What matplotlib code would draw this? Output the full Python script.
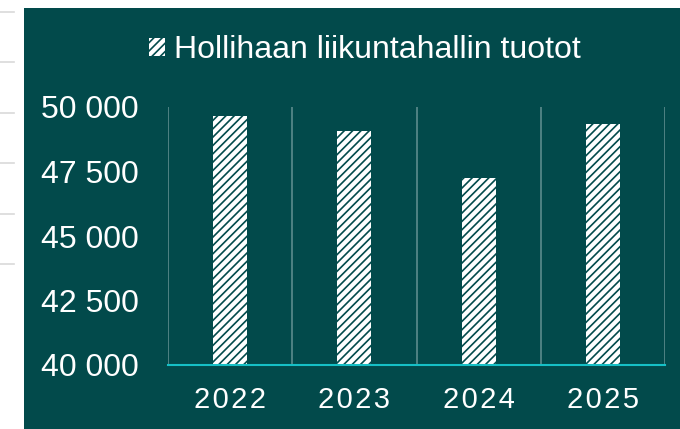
import matplotlib
matplotlib.use("Agg")
import numpy as np
from matplotlib import pyplot as plt
from matplotlib.lines import Line2D

years = ["2022", "2023", "2024", "2025"]
revenue = [49660, 49080, 47250, 49350]
yticks = [40000, 42500, 45000, 47500, 50000]
series_name = "Hollihaan liikuntahallin tuotot"

bg = "#024a4b"
plt.rcParams["font.family"] = ["Liberation Sans", "DejaVu Sans"]
plt.rcParams["hatch.linewidth"] = 1.2

fig = plt.figure(figsize=(6.8, 4.29), dpi=100)
fig.patch.set_facecolor("white")

# teal panel
panel = plt.Rectangle((24 / 680, 0), 1 - 24 / 680, 1 - 8 / 429, transform=fig.transFigure,
                      facecolor=bg, edgecolor="none", zorder=-10)
fig.patches.append(panel)
# bits of gridlines from the neighbouring chart
for i in range(6):
    yy = 1 - (12 + i * 50.4) / 429
    fig.add_artist(Line2D([0, 14 / 680], [yy, yy], color="#d9d9d9", lw=1.2, transform=fig.transFigure))

ax = fig.add_axes([168 / 680, 1 - 365 / 429, 497 / 680, 258 / 429])
ax.set_facecolor("none")

x = np.arange(len(years))
ax.bar(x, revenue, width=0.274, color="white", edgecolor=bg, hatch="////", linewidth=0,
       label=series_name, zorder=3)

ax.set_xlim(-0.5, len(years) - 0.5)
ax.set_ylim(40000, 50000)
ax.set_yticks(yticks)
ax.set_yticklabels([f"{v:,}".replace(",", " ") for v in yticks])
ax.set_xticks(x)
ax.set_xticklabels(["\u200a".join(y) for y in years])

# vertical separators between categories
for b in np.arange(-0.5, len(years), 1.0):
    ax.axvline(b, color="#4f8283", lw=1.4, zorder=1)

for s in ["top", "right", "left"]:
    ax.spines[s].set_visible(False)
ax.spines["bottom"].set_color("#16c0c6")
ax.spines["bottom"].set_linewidth(1.5)
ax.spines["bottom"].set_zorder(4)

ax.tick_params(axis="both", length=0, colors="white", labelsize=21)
ax.tick_params(axis="y", pad=21, labelsize=23)
ax.tick_params(axis="x", pad=15)

leg = fig.legend(loc="center", bbox_to_anchor=(365 / 680, 1 - 50 / 429), frameon=False,
                 fontsize=23, labelcolor="white", handlelength=0.5, handleheight=0.5,
                 handletextpad=0.28)

fig.savefig("out.png", dpi=100, facecolor=fig.get_facecolor())
